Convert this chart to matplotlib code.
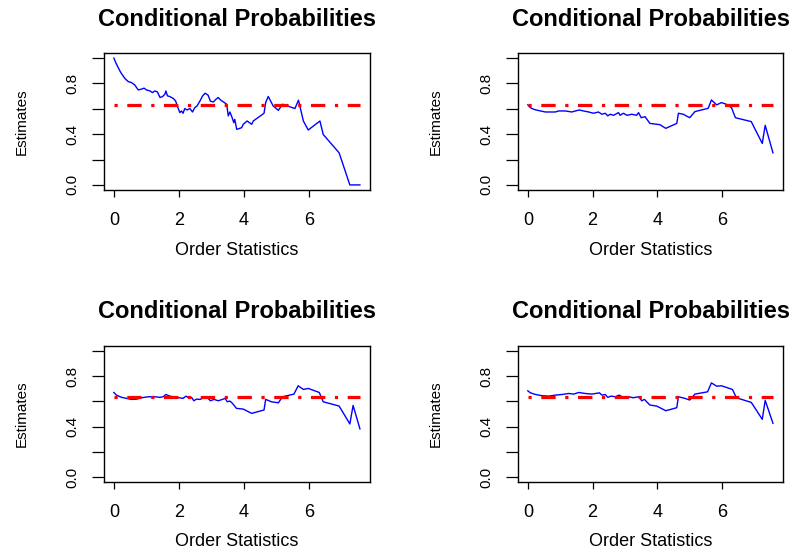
import matplotlib
matplotlib.use('Agg')
from matplotlib import pyplot as plt

plt.rcParams['font.family'] = ['Liberation Sans', 'DejaVu Sans']

# valor de referencia (linea roja)
REFERENCIA = 0.633

# panel 1 (arriba izquierda)
x1 = [0, 0.08, 0.21, 0.34, 0.44, 0.54, 0.64, 0.75, 0.85, 0.93, 1.0, 1.11, 1.19, 1.26, 1.34, 1.42,
      1.5, 1.57, 1.6, 1.65, 1.72, 1.83, 1.9, 1.95, 2.03, 2.08, 2.13, 2.18, 2.25, 2.34, 2.42, 2.49,
      2.56, 2.65, 2.73, 2.81, 2.9, 2.97, 3.06, 3.14, 3.21, 3.29, 3.4, 3.47, 3.52, 3.57, 3.62, 3.69,
      3.72, 3.78, 3.93, 3.98, 4.1, 4.24, 4.29, 4.62, 4.67, 4.75, 4.9, 5.06, 5.19, 5.57, 5.68, 5.83,
      5.98, 6.34, 6.44, 6.93, 7.26, 7.57]
y1 = [1.0, 0.952, 0.887, 0.839, 0.815, 0.807, 0.789, 0.749, 0.755, 0.763, 0.749, 0.741, 0.728, 0.741,
      0.733, 0.689, 0.697, 0.715, 0.741, 0.702, 0.697, 0.681, 0.662, 0.623, 0.570, 0.583, 0.565, 0.602,
      0.591, 0.602, 0.575, 0.609, 0.623, 0.662, 0.702, 0.723, 0.707, 0.660, 0.654, 0.675, 0.689, 0.668,
      0.649, 0.636, 0.544, 0.575, 0.544, 0.491, 0.517, 0.438, 0.451, 0.478, 0.504, 0.478, 0.504, 0.565,
      0.649, 0.697, 0.623, 0.588, 0.636, 0.602, 0.668, 0.504, 0.433, 0.504, 0.398, 0.253, 0.0, 0.0]

# panel 2 (arriba derecha)
x2 = [0, 0.08, 0.18, 0.34, 0.54, 0.85, 0.95, 1.16, 1.36, 1.47, 1.59, 1.72, 1.88, 2.03, 2.18, 2.29,
      2.39, 2.47, 2.54, 2.65, 2.8, 2.85, 2.95, 3.06, 3.21, 3.36, 3.42, 3.5, 3.62, 3.77, 4.08, 4.26,
      4.6, 4.65, 4.8, 5.0, 5.16, 5.57, 5.67, 5.83, 5.98, 6.13, 6.29, 6.41, 6.9, 7.24, 7.33, 7.57]
y2 = [0.631, 0.609, 0.596, 0.586, 0.575, 0.575, 0.583, 0.583, 0.575, 0.583, 0.591, 0.583, 0.575, 0.565,
      0.575, 0.557, 0.565, 0.544, 0.557, 0.549, 0.570, 0.549, 0.565, 0.549, 0.557, 0.549, 0.570, 0.530,
      0.538, 0.485, 0.475, 0.446, 0.485, 0.565, 0.557, 0.530, 0.578, 0.604, 0.670, 0.631, 0.649, 0.636,
      0.609, 0.530, 0.499, 0.327, 0.470, 0.253]

# panel 3 (abajo izquierda)
x3 = [0, 0.08, 0.24, 0.39, 0.54, 0.7, 0.85, 1.06, 1.26, 1.42, 1.52, 1.6, 1.72, 1.93, 2.13, 2.22,
      2.32, 2.39, 2.46, 2.54, 2.65, 2.8, 2.9, 2.97, 3.08, 3.21, 3.34, 3.42, 3.49, 3.57, 3.65, 3.77,
      3.98, 4.24, 4.62, 4.67, 4.85, 5.06, 5.19, 5.54, 5.67, 5.83, 5.98, 6.32, 6.44, 6.93, 7.26, 7.36,
      7.57]
y3 = [0.671, 0.650, 0.632, 0.624, 0.616, 0.618, 0.629, 0.637, 0.637, 0.632, 0.637, 0.655, 0.642, 0.632,
      0.624, 0.642, 0.624, 0.632, 0.605, 0.618, 0.616, 0.632, 0.624, 0.605, 0.616, 0.605, 0.616, 0.624,
      0.597, 0.603, 0.584, 0.545, 0.539, 0.505, 0.532, 0.616, 0.597, 0.589, 0.637, 0.658, 0.724, 0.695,
      0.703, 0.671, 0.597, 0.563, 0.421, 0.568, 0.382]

# panel 4 (abajo derecha)
x4 = [0, 0.08, 0.24, 0.44, 0.65, 0.85, 1.06, 1.26, 1.42, 1.57, 1.77, 1.98, 2.21, 2.29, 2.39, 2.47,
      2.57, 2.7, 2.82, 2.95, 3.11, 3.26, 3.42, 3.52, 3.6, 3.77, 3.98, 4.26, 4.6, 4.65, 4.85, 5.0,
      5.16, 5.55, 5.67, 5.83, 5.98, 6.32, 6.44, 6.9, 7.24, 7.33, 7.57]
y4 = [0.684, 0.668, 0.655, 0.645, 0.642, 0.650, 0.655, 0.663, 0.658, 0.671, 0.663, 0.658, 0.668, 0.650,
      0.655, 0.632, 0.642, 0.637, 0.650, 0.632, 0.637, 0.629, 0.637, 0.605, 0.616, 0.571, 0.563, 0.526,
      0.550, 0.637, 0.624, 0.611, 0.658, 0.676, 0.747, 0.721, 0.724, 0.695, 0.629, 0.592, 0.458, 0.608,
      0.426]

ANCHO, ALTO = 793, 555


def graficar_panel(fig, izq, arriba, ancho, alto, xs, ys):
  """Dibuja un panel al estilo de R base en una posicion en pixeles."""
  ax = fig.add_axes([izq / ANCHO, 1 - (arriba + alto) / ALTO, ancho / ANCHO, alto / ALTO])
  ax.plot(xs, ys, color='#0000FF', linewidth=1.0)
  ax.plot([xs[0], xs[-1]], [REFERENCIA, REFERENCIA], color='#FF0000', linewidth=2.3,
          dashes=(1, 3, 4.5, 3))
  ax.set_xlim(-0.3032, 7.88)
  ax.set_ylim(-0.04, 1.04)
  ax.set_xticks([0, 2, 4, 6])
  ax.set_xticklabels(['0', '2', '4', '6'], fontsize=13)
  ax.set_yticks([0, 0.2, 0.4, 0.6, 0.8, 1.0])
  ax.set_yticklabels(['0.0', '', '0.4', '', '0.8', ''], fontsize=11, rotation=90, va='center')
  ax.tick_params(axis='x', direction='out', length=5, width=0.9, pad=11)
  ax.tick_params(axis='y', direction='out', length=9, width=0.9, pad=9)
  for spine in ax.spines.values():
    spine.set_linewidth(1.0)
  ax.set_title('Conditional Probabilities', fontsize=17, fontweight='bold',
               y=1 + 34 / alto, va='center', pad=0)
  ax.set_xlabel('Order Statistics', fontsize=13, va='center')
  ax.xaxis.set_label_coords(0.5, -60 / alto)
  ax.set_ylabel('Estimates', fontsize=11, va='center')
  ax.yaxis.set_label_coords(-82 / ancho, 0.5)
  return ax


fig = plt.figure(figsize=(ANCHO / 100, ALTO / 100), dpi=100)
graficar_panel(fig, 104, 53, 266, 137, x1, y1)
graficar_panel(fig, 518, 53, 265, 137, x2, y2)
graficar_panel(fig, 104, 346, 266, 136, x3, y3)
graficar_panel(fig, 518, 346, 265, 136, x4, y4)
plt.savefig('out.png', dpi=100)
